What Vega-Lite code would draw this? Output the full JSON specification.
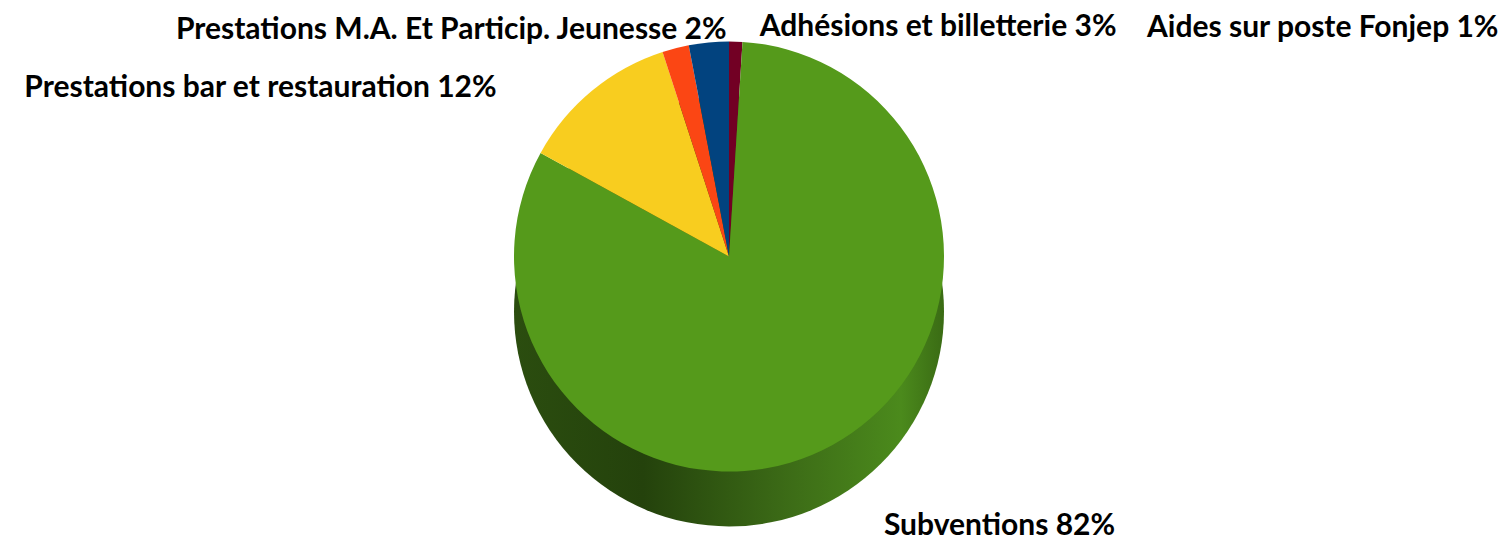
{
  "$schema": "https://vega.github.io/schema/vega-lite/v6.json",
  "width": 1506,
  "height": 541,
  "autosize": {"type": "fit", "contains": "padding"},
  "padding": 0,
  "background": "white",
  "config": {"view": {"stroke": null}},
  "data": {"values": [
    {"label": "Aides sur poste Fonjep", "txt": "Aides sur poste Fonjep 1%", "pct": 1, "ord": 1},
    {"label": "Subventions", "txt": "Subventions 82%", "pct": 82, "ord": 2},
    {"label": "Prestations bar et restauration", "txt": "Prestations bar et restauration 12%", "pct": 12, "ord": 3},
    {"label": "Prestations M.A. Et Particip. Jeunesse", "txt": "Prestations M.A. Et Particip. Jeunesse 2%", "pct": 2, "ord": 4},
    {"label": "Adhésions et billetterie", "txt": "Adhésions et billetterie 3%", "pct": 3, "ord": 5}
  ]},
  "layer": [
    {
      "transform": [{"aggregate": [{"op": "sum", "field": "pct", "as": "total"}]}],
      "mark": {"type": "arc", "outerRadius": 215, "xOffset": -24, "yOffset": 41.5,
        "fill": {"gradient": "linear", "x1": 0, "y1": 0, "x2": 1, "y2": 0, "stops": [
          {"offset": 0, "color": "#2b4d0f"}, {"offset": 0.3, "color": "#24420c"},
          {"offset": 0.65, "color": "#3d6d17"}, {"offset": 0.9, "color": "#4b8a1c"}, {"offset": 1, "color": "#3a6b14"}]}},
      "encoding": {}
    },
    {
      "mark": {"type": "arc", "outerRadius": 215, "xOffset": -24, "yOffset": -13.5},
      "encoding": {
        "theta": {"field": "pct", "type": "quantitative", "stack": true},
        "order": {"field": "ord", "type": "quantitative"},
        "color": {"field": "label", "type": "nominal", "legend": null,
          "scale": {"domain": ["Aides sur poste Fonjep", "Subventions", "Prestations bar et restauration", "Prestations M.A. Et Particip. Jeunesse", "Adhésions et billetterie"],
                    "range": ["#720024", "#559a1b", "#f8cd1f", "#fb4614", "#02437f"]}}
      }
    },
    {
      "transform": [{"stack": "pct", "groupby": [], "sort": [{"field": "ord"}], "as": ["s0", "s1"]}, {"filter": "datum.ord == 1"}],
      "mark": {"type": "text", "radius": 215, "xOffset": -24, "yOffset": -13.5, "align": "left", "baseline": "middle", "dx": 418, "dy": -14, "font": "Lato", "fontSize": 30, "fontWeight": "bold", "color": "black"},
      "encoding": {"theta": {"field": "s0", "type": "quantitative"}, "text": {"field": "txt"}}
    },
    {
      "transform": [{"stack": "pct", "groupby": [], "sort": [{"field": "ord"}], "as": ["s0", "s1"]}, {"filter": "datum.ord == 2"}],
      "mark": {"type": "text", "radius": 215, "xOffset": -24, "yOffset": -13.5, "align": "center", "baseline": "middle", "dx": 257, "dy": 484, "font": "Lato", "fontSize": 30, "fontWeight": "bold", "color": "black"},
      "encoding": {"theta": {"field": "s0", "type": "quantitative"}, "text": {"field": "txt"}}
    },
    {
      "transform": [{"stack": "pct", "groupby": [], "sort": [{"field": "ord"}], "as": ["s0", "s1"]}, {"filter": "datum.ord == 3"}],
      "mark": {"type": "text", "radius": 215, "xOffset": -24, "yOffset": -13.5, "align": "right", "baseline": "middle", "dx": -44, "dy": -65, "font": "Lato", "fontSize": 30, "fontWeight": "bold", "color": "black"},
      "encoding": {"theta": {"field": "s0", "type": "quantitative"}, "text": {"field": "txt"}}
    },
    {
      "transform": [{"stack": "pct", "groupby": [], "sort": [{"field": "ord"}], "as": ["s0", "s1"]}, {"filter": "datum.ord == 4"}],
      "mark": {"type": "text", "radius": 215, "xOffset": -24, "yOffset": -13.5, "align": "right", "baseline": "middle", "dx": 64, "dy": -22, "font": "Lato", "fontSize": 30, "fontWeight": "bold", "color": "black"},
      "encoding": {"theta": {"field": "s0", "type": "quantitative"}, "text": {"field": "txt"}}
    },
    {
      "transform": [{"stack": "pct", "groupby": [], "sort": [{"field": "ord"}], "as": ["s0", "s1"]}, {"filter": "datum.ord == 5"}],
      "mark": {"type": "text", "radius": 215, "xOffset": -24, "yOffset": -13.5, "align": "left", "baseline": "middle", "dx": 71, "dy": -18, "font": "Lato", "fontSize": 30, "fontWeight": "bold", "color": "black"},
      "encoding": {"theta": {"field": "s0", "type": "quantitative"}, "text": {"field": "txt"}}
    }
  ]
}
